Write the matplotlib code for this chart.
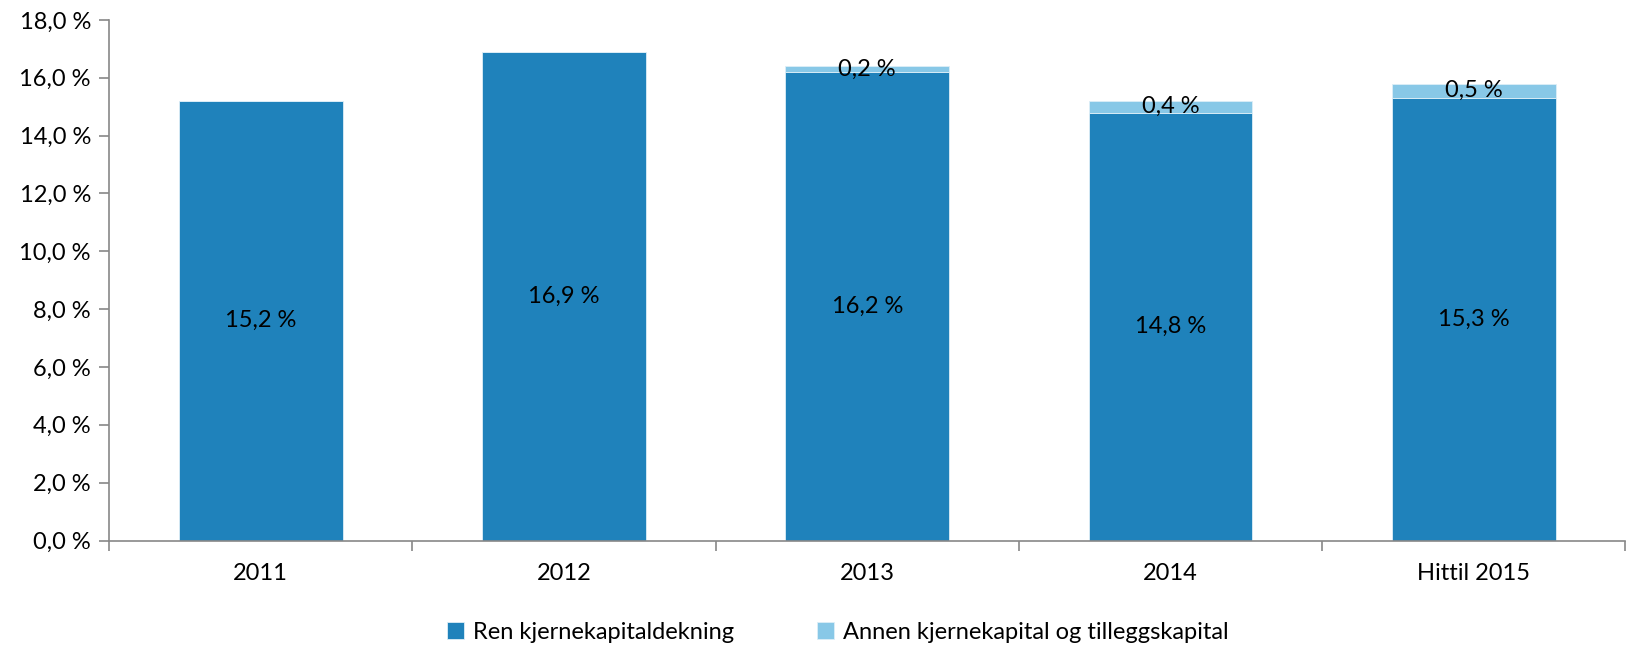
import matplotlib
matplotlib.use("Agg")
import matplotlib.pyplot as plt
import numpy as np
from matplotlib.ticker import FixedLocator, NullFormatter

plt.rcParams['font.family'] = ['Lato', 'DejaVu Sans']

categories = ["2011", "2012", "2013", "2014", "Hittil 2015"]
ren = [15.2, 16.9, 16.2, 14.8, 15.3]
annen = [0.0, 0.0, 0.2, 0.4, 0.5]
ren_labels = ["15,2 %", "16,9 %", "16,2 %", "14,8 %", "15,3 %"]
annen_labels = ["", "", "0,2 %", "0,4 %", "0,5 %"]
yticks = [0, 2, 4, 6, 8, 10, 12, 14, 16, 18]
series_names = ["Ren kjernekapitaldekning", "Annen kjernekapital og tilleggskapital"]

c_dark = "#1F82BB"
c_light = "#88C8E7"
FS = 17

fig = plt.figure(figsize=(16.27, 6.45), dpi=100)
ax = fig.add_axes([0.067, 0.162, 0.932, 0.807])

x = np.arange(len(categories))
w = 0.54
b1 = ax.bar(x, ren, w, color=c_dark, edgecolor="#DDEEF7", linewidth=0.6, label=series_names[0])
b2 = ax.bar(x, annen, w, bottom=ren, color=c_light, edgecolor="#DDEEF7", linewidth=0.6, label=series_names[1])

for i in range(len(categories)):
    ax.text(x[i], ren[i] / 2, ren_labels[i], ha="center", va="center", fontsize=FS, color="black")
    if annen_labels[i]:
        ax.text(x[i], ren[i] + annen[i] / 2, annen_labels[i], ha="center", va="center", fontsize=FS, color="black")

ax.set_xlim(-0.5, len(categories) - 0.5)
ax.set_ylim(0, 18)
ax.set_yticks(yticks)
ax.set_yticklabels([f"{v:.1f} %".replace(".", ",") for v in yticks], fontsize=FS)
ax.set_xticks(x)
ax.set_xticklabels(categories, fontsize=FS)
ax.tick_params(axis="x", which="major", length=0, pad=16)
ax.xaxis.set_minor_locator(FixedLocator(np.arange(-0.5, len(categories), 1.0)))
ax.xaxis.set_minor_formatter(NullFormatter())
ax.tick_params(axis="x", which="minor", length=7, width=1.2, color="#888888")
ax.tick_params(axis="y", length=7, width=1.2, color="#888888", pad=6)

for s in ["top", "right"]:
    ax.spines[s].set_visible(False)
for s in ["left", "bottom"]:
    ax.spines[s].set_color("#888888")
    ax.spines[s].set_linewidth(1.2)

handles = [b1, b2]
fig.legend(handles, series_names, loc="center", bbox_to_anchor=(0.515, 0.02), ncol=2,
           frameon=False, fontsize=FS, handlelength=0.7, handleheight=0.7,
           handletextpad=0.4, columnspacing=3.5)

fig.savefig("out.png", dpi=100)
